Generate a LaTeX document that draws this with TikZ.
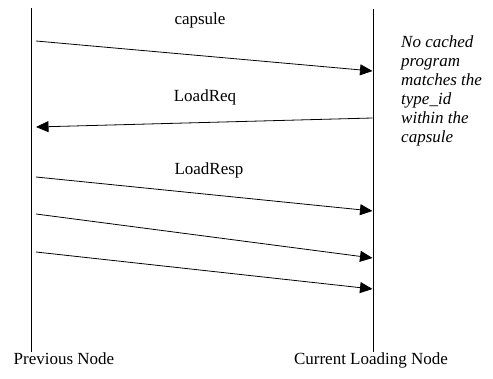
\documentclass[tikz,border=0pt]{standalone}
\usepackage{fontspec}
\setmainfont{Liberation Serif}
\usetikzlibrary{arrows.meta}
\tikzset{
  lifeline/.style={line width=0.9pt},
  msg/.style={line width=0.8pt, -{Triangle[length=12.5pt,width=11pt]}},
  lbl/.style={font=\fontsize{17}{19.5}\selectfont, inner sep=0pt, anchor=base},
}
\begin{document}
\begin{tikzpicture}[x=1pt, y=-1pt]
  \useasboundingbox (0,0) rectangle (493,379);
  % Lifelines
  \coordinate (prevtop) at (31,8);
  \coordinate (prevbot) at (31,352);
  \coordinate (curtop) at (373,9);
  \coordinate (curbot) at (373,352);
  \draw[lifeline] (prevtop) -- (prevbot);
  \draw[lifeline] (curtop) -- (curbot);
  \node[lbl] (prevname) at (64,365) {Previous Node};
  \node[lbl] (curname) at (371,365) {Current Loading Node};
  % Message end points
  \coordinate (capsuleA) at (36,41);
  \coordinate (capsuleB) at (372.5,71);
  \coordinate (reqA) at (372.5,118);
  \coordinate (reqB) at (36,127);
  \coordinate (respA) at (36,177);
  \coordinate (respB) at (372.5,211);
  \coordinate (nextA) at (36,214);
  \coordinate (nextB) at (372.5,258);
  \coordinate (lastA) at (36,252);
  \coordinate (lastB) at (372.5,289);
  % Messages
  \draw[msg] (capsuleA) -- (capsuleB);
  \draw[msg] (reqA) -- (reqB);
  \draw[msg] (respA) -- (respB);
  \draw[msg] (nextA) -- (nextB);
  \draw[msg] (lastA) -- (lastB);
  \node[lbl] (capsule) at (200,25) {capsule};
  \node[lbl] (loadreq) at (205,102) {LoadReq};
  \node[lbl] (loadresp) at (209,175) {LoadResp};
  % Note beside the current node (base is the last line)
  \node[lbl, anchor=base west, align=left, font=\fontsize{17}{19}\selectfont\itshape]
    (note) at (401,143) {No cached\\program\\matches the\\type\_id\\within the\\capsule};
\end{tikzpicture}
\end{document}
